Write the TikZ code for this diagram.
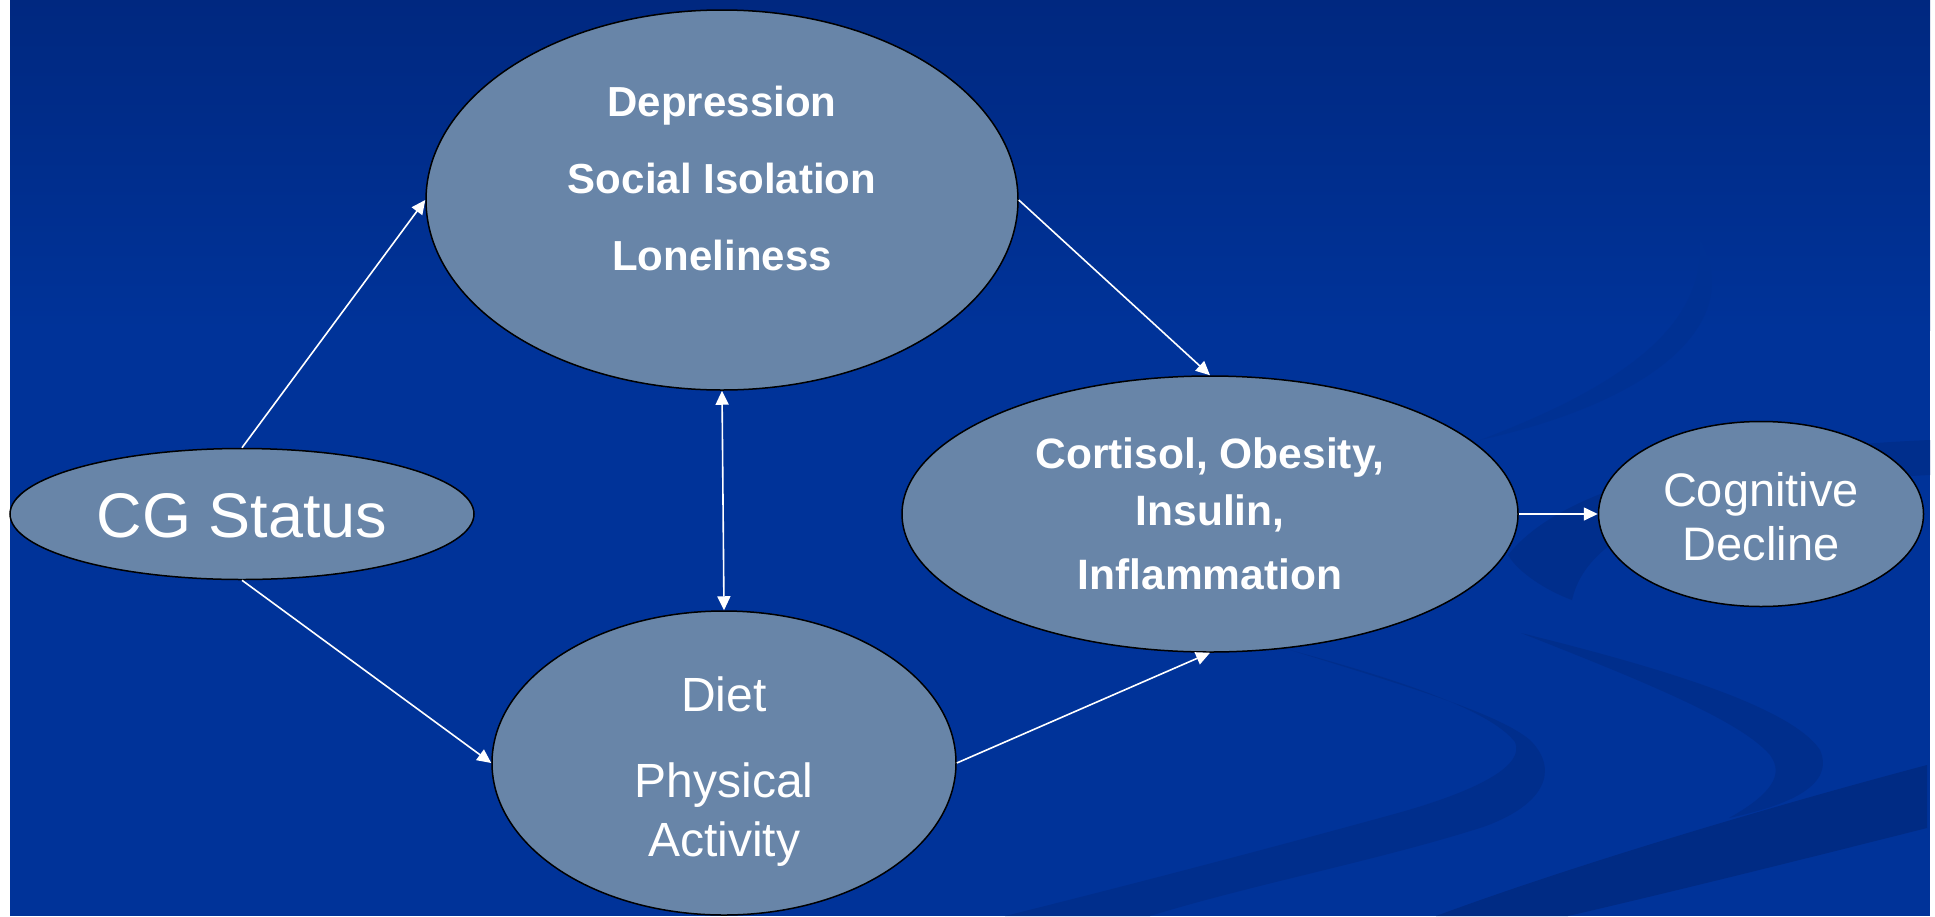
\documentclass[tikz,border=0pt]{standalone}
\usepackage{fontspec}
\setmainfont{Liberation Sans}
\usepackage{tikz}
\usetikzlibrary{
  shapes.geometric,
  arrows.meta,
  positioning
}
\definecolor{slidetop}{RGB}{0, 40, 128}
\definecolor{slideblue}{RGB}{0, 51, 153}
\definecolor{swooshblue}{RGB}{0, 46, 140}
\definecolor{swooshdark}{RGB}{0, 43, 132}
\definecolor{ovalfill}{RGB}{104, 133, 168}
\tikzset{
  oval/.style 2 args = {
    ellipse, draw=black, line width=1.5pt,
    fill=ovalfill, inner sep=0pt,
    minimum width=#1, minimum height=#2
  },
  ovaltxt/.style = {
    text=white, align=center, inner sep=0pt
  },
  arr/.style  = {-{Triangle[length=14pt, width=13pt]}, draw=white, line width=1.6pt},
  dblarr/.style = {{Triangle[length=14pt, width=13pt]}-{Triangle[length=14pt, width=13pt]},
                   draw=white, line width=1.6pt},
}

\begin{document}
\begin{tikzpicture}[x=1pt, y=-1pt]

  \useasboundingbox (0,0) rectangle (1935,916);

  %% ── Slide background ───────────────────────────────────────────────────
  \fill[white] (0,0) rectangle (1935,916);
  \fill[slideblue] (10,0) rectangle (1930,916);
  \shade[top color=slidetop, bottom color=slideblue] (10,0) rectangle (1930,330);

  % swooshes
  \fill[swooshblue!45!slideblue] (1700,240) .. controls (1745,320) and (1660,400) .. (1480,440)
    .. controls (1625,385) and (1705,325) .. cycle;
  \fill[swooshblue] (1508,555) .. controls (1560,490) and (1700,450) .. (1930,440)
    -- (1930,475) .. controls (1720,485) and (1590,520) .. (1572,600)
    .. controls (1545,590) and (1518,572) .. cycle;
  \fill[swooshblue] (1290,650) .. controls (1420,690) and (1500,715) .. (1530,740)
    .. controls (1560,770) and (1545,805) .. (1483,827)
    .. controls (1380,860) and (1250,885) .. (1150,916)
    -- (1005,916)
    .. controls (1150,880) and (1300,840) .. (1398,813)
    .. controls (1480,790) and (1525,765) .. (1515,742)
    .. controls (1490,710) and (1400,680) .. cycle;
  \fill[swooshblue] (1521,633) .. controls (1650,665) and (1790,705) .. (1820,750)
    .. controls (1835,785) and (1790,805) .. (1729,818)
    .. controls (1770,795) and (1785,775) .. (1770,755)
    .. controls (1740,720) and (1640,680) .. cycle;
  \fill[swooshdark] (1436,916) .. controls (1560,870) and (1750,812) .. (1927,765)
    -- (1927,828) .. controls (1800,860) and (1680,890) .. (1568,916) -- cycle;

  %% ── Ovals ──────────────────────────────────────────────────────────────
  \node[oval={464pt}{131pt}] (cg)   at (242,514) {};
  \node[oval={592pt}{380pt}] (dep)  at (722,200) {};
  \node[oval={464pt}{304pt}] (diet) at (724,763) {};
  \node[oval={616pt}{276pt}] (cort) at (1210,514) {};
  \node[oval={325pt}{185pt}] (cog)  at (1761,514) {};

  %% ── Oval texts ─────────────────────────────────────────────────────────
  \node[ovaltxt, font=\fontsize{63}{70}\selectfont] (cgtxt) at (242,516)
    {CG Status};
  \node[ovaltxt, font=\fontsize{42}{77}\selectfont\bfseries] (deptxt) at (722,178)
    {Depression\\Social Isolation\\Loneliness};
  \node[ovaltxt, font=\fontsize{48}{59}\selectfont] (diettxt) at (724,772)
    {Diet\\[27pt]Physical\\Activity};
  \node[ovaltxt, font=\fontsize{42.5}{57}\selectfont\bfseries] (corttxt) at (1210,514)
    {Cortisol, Obesity,\\Insulin,\\[7pt]Inflammation};
  \node[ovaltxt, font=\fontsize{47}{54}\selectfont] (cogtxt) at (1761,517)
    {Cognitive\\Decline};

  %% ── Arrows ─────────────────────────────────────────────────────────────
  \draw[arr]    (cg.north) -- (dep.west);
  \draw[arr]    (cg.south) -- (diet.west);
  \draw[dblarr] (dep.south) -- (diet.north);
  \draw[arr]    (dep.east) -- (cort.north);
  \draw[arr]    (diet.east) -- (cort.south);
  \draw[arr]    (cort.east) -- (cog.west);

\end{tikzpicture}
\end{document}
